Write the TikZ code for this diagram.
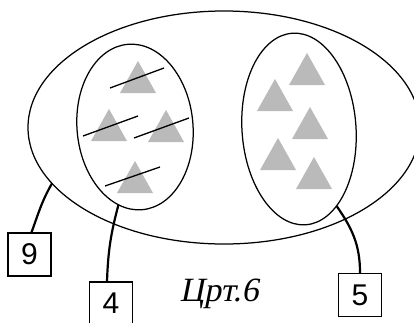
\documentclass[tikz,border=0pt]{standalone}
\usepackage{fontspec}
\usetikzlibrary{shapes.geometric}
\newfontfamily\digitfont{Liberation Sans}
\newfontfamily\capfont[FakeSlant=0.2]{Liberation Serif}
\definecolor{trigray}{HTML}{BABABA}
\tikzset{
  setoval/.style={ellipse, draw, line width=1.25pt, inner sep=0pt, outer sep=0pt},
  tag/.style={draw, line width=1.2pt, minimum width=43pt, minimum height=43pt,
    inner sep=0pt, font=\digitfont\fontsize{30}{30}\selectfont},
  lead/.style={line width=2.2pt},
  strike/.style={line width=1.3pt},
  pics/tri/.style={code={\fill[trigray] (0,0) -- (-18,32) -- (18,32) -- cycle;}}
}
\begin{document}
\begin{tikzpicture}[x=1pt,y=-1pt]
\useasboundingbox (0,0) rectangle (414,322);
\fill[white] (0,0) rectangle (414,322);

% the whole set and its two parts
\node[setoval, minimum width=392pt, minimum height=233pt] (all) at (224,127.5) {};
\node[setoval, minimum width=116pt, minimum height=166pt, rotate=5] (left) at (135,127) {};
\node[setoval, minimum width=114pt, minimum height=192pt, rotate=4] (right) at (299,129) {};

% crossed-out triangles
\foreach \p in {(138,61),(109,109),(166,110),(135,161)} \pic at \p {tri};
\draw[strike] (110,88) -- (164,68);
\draw[strike] (83,136) -- (138,116);
\draw[strike] (134,138) -- (189,118);
\draw[strike] (105,186) -- (160,167);

% remaining triangles
\foreach \p in {(307,53),(275,79),(310,107),(278,138),(314,157)} \pic at \p {tri};

% counts
\node[tag] (n9) at (29.5,254.5) {9};
\node[tag] (n4) at (111,303.5) {4};
\node[tag] (n5) at (360,295) {5};

\node[font=\capfont\fontsize{34}{34}\selectfont, inner sep=0pt] (cap) at (219,294) {Црт.6};

% leaders
\draw[lead] ([xshift=2pt]n9.north) to[out=70,in=240] (all.198);
\draw[lead] ([xshift=-4pt]n4.north) to[out=88,in=255] (left.253);
\draw[lead] (right.292) to[out=-55,in=90] (n5.north);
\end{tikzpicture}
\end{document}
